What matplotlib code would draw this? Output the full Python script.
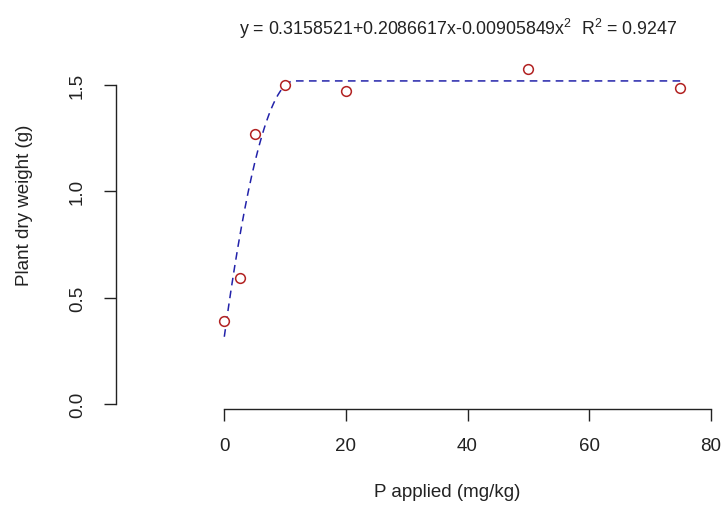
import numpy as np
import matplotlib
matplotlib.use("Agg")
import matplotlib.pyplot as plt

# observed data
p_applied = [0, 2.5, 5, 10, 20, 50, 75]
dry_weight = [0.39, 0.59, 1.27, 1.50, 1.47, 1.575, 1.485]

# quadratic-plateau fit coefficients (shown in the title)
b0 = 0.3158521
b1 = 0.2086617
b2 = -0.00905849
r2 = 0.9247

x_ticks = [0, 20, 40, 60, 80]
y_ticks = [0.0, 0.5, 1.0, 1.5]
y_ticklabels = ["0.0", "0.5", "1.0", "1.5"]

plt.rcParams['font.family'] = ['Liberation Sans', 'DejaVu Sans']
plt.rcParams['mathtext.fontset'] = 'custom'
plt.rcParams['mathtext.rm'] = 'Liberation Sans'
plt.rcParams['mathtext.it'] = 'Liberation Sans'

W, H = 724, 506
fig = plt.figure(figsize=(W / 100, H / 100), dpi=100)

# axes box in pixel terms (R style, detached axes)
left_px, right_px, bottom_px, top_px = 115.7, 724, 410, 40
ax = fig.add_axes([left_px / W, 1 - bottom_px / H,
                   (right_px - left_px) / W, (bottom_px - top_px) / H])

# pixel scales
x_scale, x0_px = 6.08, 224.3
y_scale, y0_px = 212.9, 405
ax.set_xlim((left_px - x0_px) / x_scale, (right_px - x0_px) / x_scale)
ax.set_ylim((y0_px - bottom_px) / y_scale, (y0_px - top_px) / y_scale)

# fitted curve: quadratic up to the join point, plateau after
x_join = -b1 / (2 * b2)
plateau = b0 + b1 * x_join + b2 * x_join ** 2
xs = np.linspace(0, max(p_applied), 400)
ys = np.where(xs < x_join, b0 + b1 * xs + b2 * xs ** 2, plateau)
ax.plot(xs, ys, color='#2222aa', lw=1.1, ls=(0, (5, 3.5)), zorder=2)

ax.plot(p_applied, dry_weight, ls='none', marker='o', ms=7,
        mfc='white', mec='#b22222', mew=1.1, zorder=3, clip_on=False)

for s in ['top', 'right']:
    ax.spines[s].set_visible(False)
ax.spines['left'].set_bounds(0, 1.5)
ax.spines['bottom'].set_bounds(0, 80)
for s in ['left', 'bottom']:
    ax.spines[s].set_linewidth(1.0)
    ax.spines[s].set_color('#222222')

ax.set_xticks(x_ticks)
ax.set_yticks(y_ticks)
ax.set_yticklabels(y_ticklabels, rotation=90, va='center')
ax.tick_params(axis='both', length=8.5, width=1.0, color='#222222',
               labelsize=13.5, labelcolor='#222222')
ax.tick_params(axis='x', pad=12)
ax.tick_params(axis='y', pad=13)

ax.set_xlabel('P applied (mg/kg)', fontsize=13.5, color='#222222')
ax.xaxis.set_label_coords((447 - left_px) / (right_px - left_px),
                          -(484 - bottom_px) / (bottom_px - top_px))
ax.set_ylabel('Plant dry weight (g)', fontsize=13.5, color='#222222')
ax.yaxis.set_label_coords(-(left_px - 33) / (right_px - left_px),
                          (bottom_px - 205) / (bottom_px - top_px))

title = (f'y = {b0}+{b1}x{b2}x$^{{2}}$  R$^{{2}}$ = {r2}')
fig.text(458 / W, 1 - 29 / H, title, ha='center', va='center',
         fontsize=12.8, color='#222222')

fig.savefig('out.png', dpi=100)
